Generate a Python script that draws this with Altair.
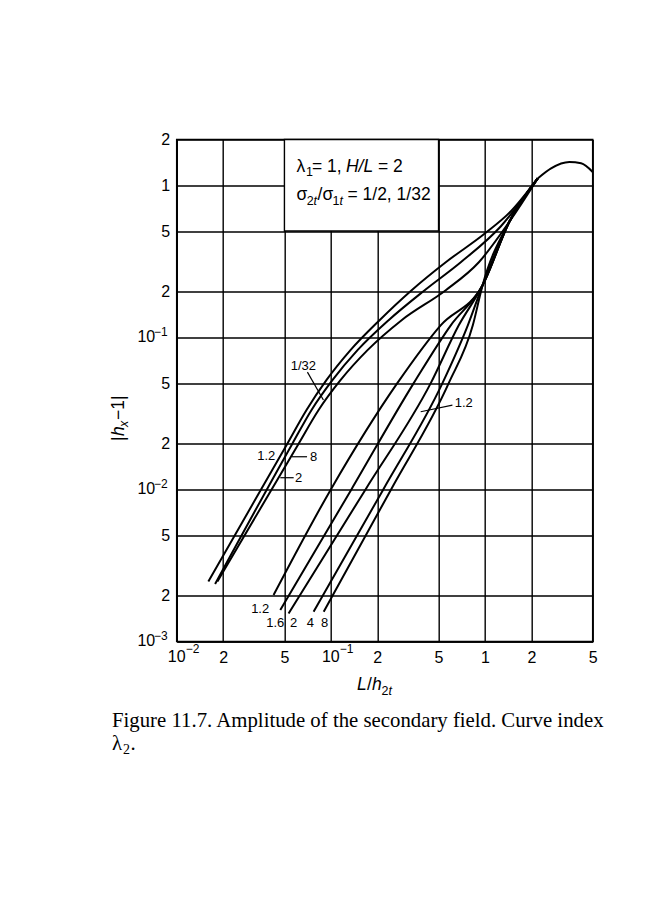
import altair as alt
import pandas as pd

# ---------------- data ----------------
X_TICKS = [0.01, 0.02, 0.05, 0.1, 0.2, 0.5, 1, 2, 5]
X_LABELS = ["", "2", "5", "", "2", "5", "1", "2", "5"]          # powers of ten drawn separately
Y_TICKS = [0.001, 0.002, 0.005, 0.01, 0.02, 0.05, 0.1, 0.2, 0.5, 1, 2]
Y_LABELS = ["", "2", "5", "", "2", "5", "", "2", "5", "1", "2"]
X_POW = [0.01, 0.1]
X_POW_EXP = ["−2", "−1"]
Y_POW = [0.001, 0.01, 0.1]
Y_POW_EXP = ["−3", "−2", "−1"]

# sigma ratio 1/32, lambda2 = 1.2, 8, 2
a1_x = [0.01605, 0.0522, 0.0694, 0.0936, 0.1341, 0.2071, 0.3345, 0.5567, 0.9835, 1.474, 2.2]
a1_y = [0.00248, 0.02, 0.0332, 0.0523, 0.0824, 0.1297, 0.2042, 0.3119, 0.4764, 0.6748, 1.11]
a2_x = [0.01775, 0.0563, 0.0748, 0.1024, 0.1490, 0.2370, 0.4064, 0.6968, 1.269, 2.2]
a2_y = [0.00239, 0.02, 0.0332, 0.0523, 0.0824, 0.1297, 0.2042, 0.3119, 0.5378, 1.11]
a3_x = [0.01837, 0.0618, 0.0831, 0.1155, 0.1730, 0.2879, 0.5567, 0.9127, 1.431, 2.2]
a3_y = [0.00248, 0.02, 0.0332, 0.0523, 0.0824, 0.1297, 0.2042, 0.3119, 0.5710, 1.11]

# sigma ratio 1/2, lambda2 = 1.2, 1.6, 2, 4, 8
c1_x = [0.0425, 0.1, 0.27, 0.516, 0.965, 1.437, 2.2]
c1_y = [0.00202, 0.01, 0.05, 0.12, 0.22, 0.574, 1.11]
c2_x = [0.047, 0.136, 0.345, 0.60, 0.965, 1.437, 2.2]
c2_y = [0.00161, 0.01, 0.05, 0.12, 0.22, 0.574, 1.11]
c3_x = [0.0532, 0.168, 0.445, 0.676, 0.965, 1.437, 2.2]
c3_y = [0.00153, 0.01, 0.05, 0.12, 0.22, 0.574, 1.11]
c4_x = [0.0774, 0.219, 0.53, 0.774, 0.965, 1.437, 2.2]
c4_y = [0.00157, 0.01, 0.05, 0.12, 0.22, 0.574, 1.11]
c5_x = [0.0899, 0.246, 0.582, 0.834, 0.965, 1.437, 2.2]
c5_y = [0.00157, 0.01, 0.05, 0.12, 0.22, 0.574, 1.11]

# common high-frequency branch
env_x = [2.2, 2.685, 3.53, 4.207, 5.0]
env_y = [1.11, 1.293, 1.423, 1.395, 1.223]

# curve labels
lab_text = ["1/32", "1.2", "8", "2", "1.2", "1.6", "2", "4", "8", "1.2"]
lab_x = [0.0664, 0.0381, 0.0774, 0.0618, 0.0348, 0.0436, 0.0574, 0.0737, 0.0912, 0.729]
lab_y = [0.0647, 0.01658, 0.0164, 0.01194, 0.00163, 0.00133, 0.00133, 0.00133, 0.00133, 0.037]

# leader lines
ld_x = [0.0705, 0.056, 0.047, 0.383]
ld_y = [0.0591, 0.0164, 0.01194, 0.0324]
ld_x2 = [0.0895, 0.0701, 0.0574, 0.615]
ld_y2 = [0.0387, 0.0164, 0.01194, 0.0358]

# parameter box (data extent)
box_x, box_x2, box_y, box_y2 = [0.05], [0.5], [0.5], [2.0]

# ---------------- build tables ----------------
series = {
    "a1": (a1_x, a1_y), "a2": (a2_x, a2_y), "a3": (a3_x, a3_y),
    "c1": (c1_x, c1_y), "c2": (c2_x, c2_y), "c3": (c3_x, c3_y),
    "c4": (c4_x, c4_y), "c5": (c5_x, c5_y), "env": (env_x, env_y),
}
rows = []
for name, (xs, ys) in series.items():
    for i, (xv, yv) in enumerate(zip(xs, ys)):
        rows.append({"curve": name, "x": xv, "y": yv, "o": i})
curves_df = pd.DataFrame(rows)
labels_df = pd.DataFrame({"t": lab_text, "x": lab_x, "y": lab_y})
leaders_df = pd.DataFrame({"x": ld_x, "y": ld_y, "x2": ld_x2, "y2": ld_y2})
box_df = pd.DataFrame({"x": box_x, "x2": box_x2, "y": box_y, "y2": box_y2})
xpow_df = pd.DataFrame({"x": X_POW, "e": X_POW_EXP})
ypow_df = pd.DataFrame({"y": Y_POW, "e": Y_POW_EXP})


def label_expr(ticks, labels):
    expr = "''"
    for v, l in reversed(list(zip(ticks, labels))):
        expr = f"abs(datum.value - {v}) < {v * 0.01} ? '{l}' : " + expr
    return expr


XS = alt.Scale(type="log", domain=[0.01, 5], nice=False)
YS = alt.Scale(type="log", domain=[0.001, 2], nice=False)
XA = alt.Axis(values=X_TICKS, labelExpr=label_expr(X_TICKS, X_LABELS), grid=True,
              ticks=False, title=None, labelPadding=8, labelFlush=False, labelOverlap=False)
YA = alt.Axis(values=Y_TICKS, labelExpr=label_expr(Y_TICKS, Y_LABELS), grid=True,
              ticks=False, title=None, labelPadding=7, labelOverlap=False)

W, H = 416, 502
FONT = "Liberation Sans"

box = alt.Chart(box_df).mark_rect(fill="white", stroke="black", strokeWidth=1.4).encode(
    x=alt.X("x:Q", scale=XS, axis=XA), x2="x2", y=alt.Y("y:Q", scale=YS, axis=YA), y2="y2")

lines = alt.Chart(curves_df).mark_line(color="black", strokeWidth=2, interpolate="monotone").encode(
    x=alt.X("x:Q", scale=XS, axis=XA), y=alt.Y("y:Q", scale=YS, axis=YA),
    detail="curve:N", order="o:Q")

leaders = alt.Chart(leaders_df).mark_rule(color="black", strokeWidth=1.2).encode(
    x=alt.X("x:Q", scale=XS, axis=XA), y=alt.Y("y:Q", scale=YS, axis=YA), x2="x2", y2="y2")

labels = alt.Chart(labels_df).mark_text(font=FONT, fontSize=13, color="black",
                                        align="center", baseline="middle").encode(
    x=alt.X("x:Q", scale=XS, axis=XA), y=alt.Y("y:Q", scale=YS, axis=YA), text="t:N")

# power-of-ten tick labels: "10" plus a raised exponent
xpow_base = alt.Chart(xpow_df).mark_text(font=FONT, fontSize=16, color="black", align="center",
                                         baseline="top").encode(
    x=alt.X("x:Q", scale=XS, axis=XA), y=alt.value(H + 8), text=alt.value("10"))
xpow_exp = alt.Chart(xpow_df).mark_text(font=FONT, fontSize=12, color="black", align="left",
                                        baseline="top", dx=9).encode(
    x=alt.X("x:Q", scale=XS, axis=XA), y=alt.value(H + 3), text="e:N")
ypow_base = alt.Chart(ypow_df).mark_text(font=FONT, fontSize=16, color="black", align="right",
                                         baseline="middle").encode(
    y=alt.Y("y:Q", scale=YS, axis=YA), x=alt.value(-21.5), text=alt.value("10"))
ypow_exp = alt.Chart(ypow_df).mark_text(font=FONT, fontSize=12, color="black", align="right",
                                        baseline="middle", dy=-5).encode(
    y=alt.Y("y:Q", scale=YS, axis=YA), x=alt.value(-9), text="e:N")

one = pd.DataFrame({"k": [0]})


def piece(text, px, py, size=17.5, italic=False, font=FONT, angle=0):
    kw = dict(font=font, fontSize=size, color="black", align="left", baseline="alphabetic")
    if italic:
        kw["fontStyle"] = "italic"
    if angle:
        kw["angle"] = angle
    return alt.Chart(one).mark_text(**kw).encode(
        x=alt.value(px), y=alt.value(py), text=alt.value(text))


# plot origin on page is (176.7, 139.5)
OX, OY = 176.7, 139.5
pieces = [
    # box text line 1
    piece("λ", 296.5 - OX, 171.7 - OY),
    piece("1", 306.0 - OX, 176.0 - OY, size=12.5),
    piece("= 1,", 312.0 - OX, 171.7 - OY),
    piece("H/L", 346 - OX, 171.7 - OY, italic=True),
    piece("= 2", 378 - OX, 171.7 - OY),
    # box text line 2
    piece("σ", 296.5 - OX, 200 - OY),
    piece("2", 306.8 - OX, 205 - OY, size=12.5),
    piece("t", 313.6 - OX, 205 - OY, size=12.5, italic=True),
    piece("/", 317.5 - OX, 200 - OY),
    piece("σ", 322.5 - OX, 200 - OY),
    piece("1", 332.6 - OX, 205 - OY, size=12.5),
    piece("t", 339.4 - OX, 205 - OY, size=12.5, italic=True),
    piece("= 1/2, 1/32", 347.5 - OX, 200 - OY),
    # x title
    piece("L", 357 - OX, 690 - OY, italic=True),
    piece("/", 367 - OX, 690 - OY),
    piece("h", 372 - OX, 690 - OY, italic=True),
    piece("2", 381.5 - OX, 695 - OY, size=12.5),
    piece("t", 388.5 - OX, 695 - OY, size=12.5, italic=True),
    # y title (rotated)
    piece("|", 124 - OX, 441 - OY, angle=270),
    piece("h", 124 - OX, 436 - OY, angle=270, italic=True),
    piece("x", 128 - OX, 427 - OY, size=12.5, angle=270, italic=True),
    piece("−1|", 124 - OX, 420 - OY, angle=270),
    # caption
    piece("Figure 11.7. Amplitude of the secondary field. Curve index", 112 - OX, 727 - OY,
          size=20.8, font="Liberation Serif"),
    piece("λ", 112 - OX, 750 - OY, size=20.8, font="Liberation Serif"),
    piece("2", 123 - OX, 754 - OY, size=14, font="Liberation Serif"),
    piece(".", 130.5 - OX, 750 - OY, size=20.8, font="Liberation Serif"),
]

chart = alt.layer(box, lines, leaders, labels, xpow_base, xpow_exp, ypow_base, ypow_exp,
                  *pieces).properties(
    width=W, height=H,
    autosize=alt.AutoSizeParams(type="none"),
    padding={"left": OX - 8, "top": OY - 8, "right": 40, "bottom": 140},
    background="white",
).configure_axis(
    domainColor="black", domainWidth=1.5, gridColor="black", gridWidth=1.4, gridOpacity=1,
    labelFont=FONT, labelFontSize=16, labelColor="black",
).configure_view(stroke="black", strokeWidth=1.5)

chart.save("out.html", embed_options={"renderer": "svg", "actions": False})
